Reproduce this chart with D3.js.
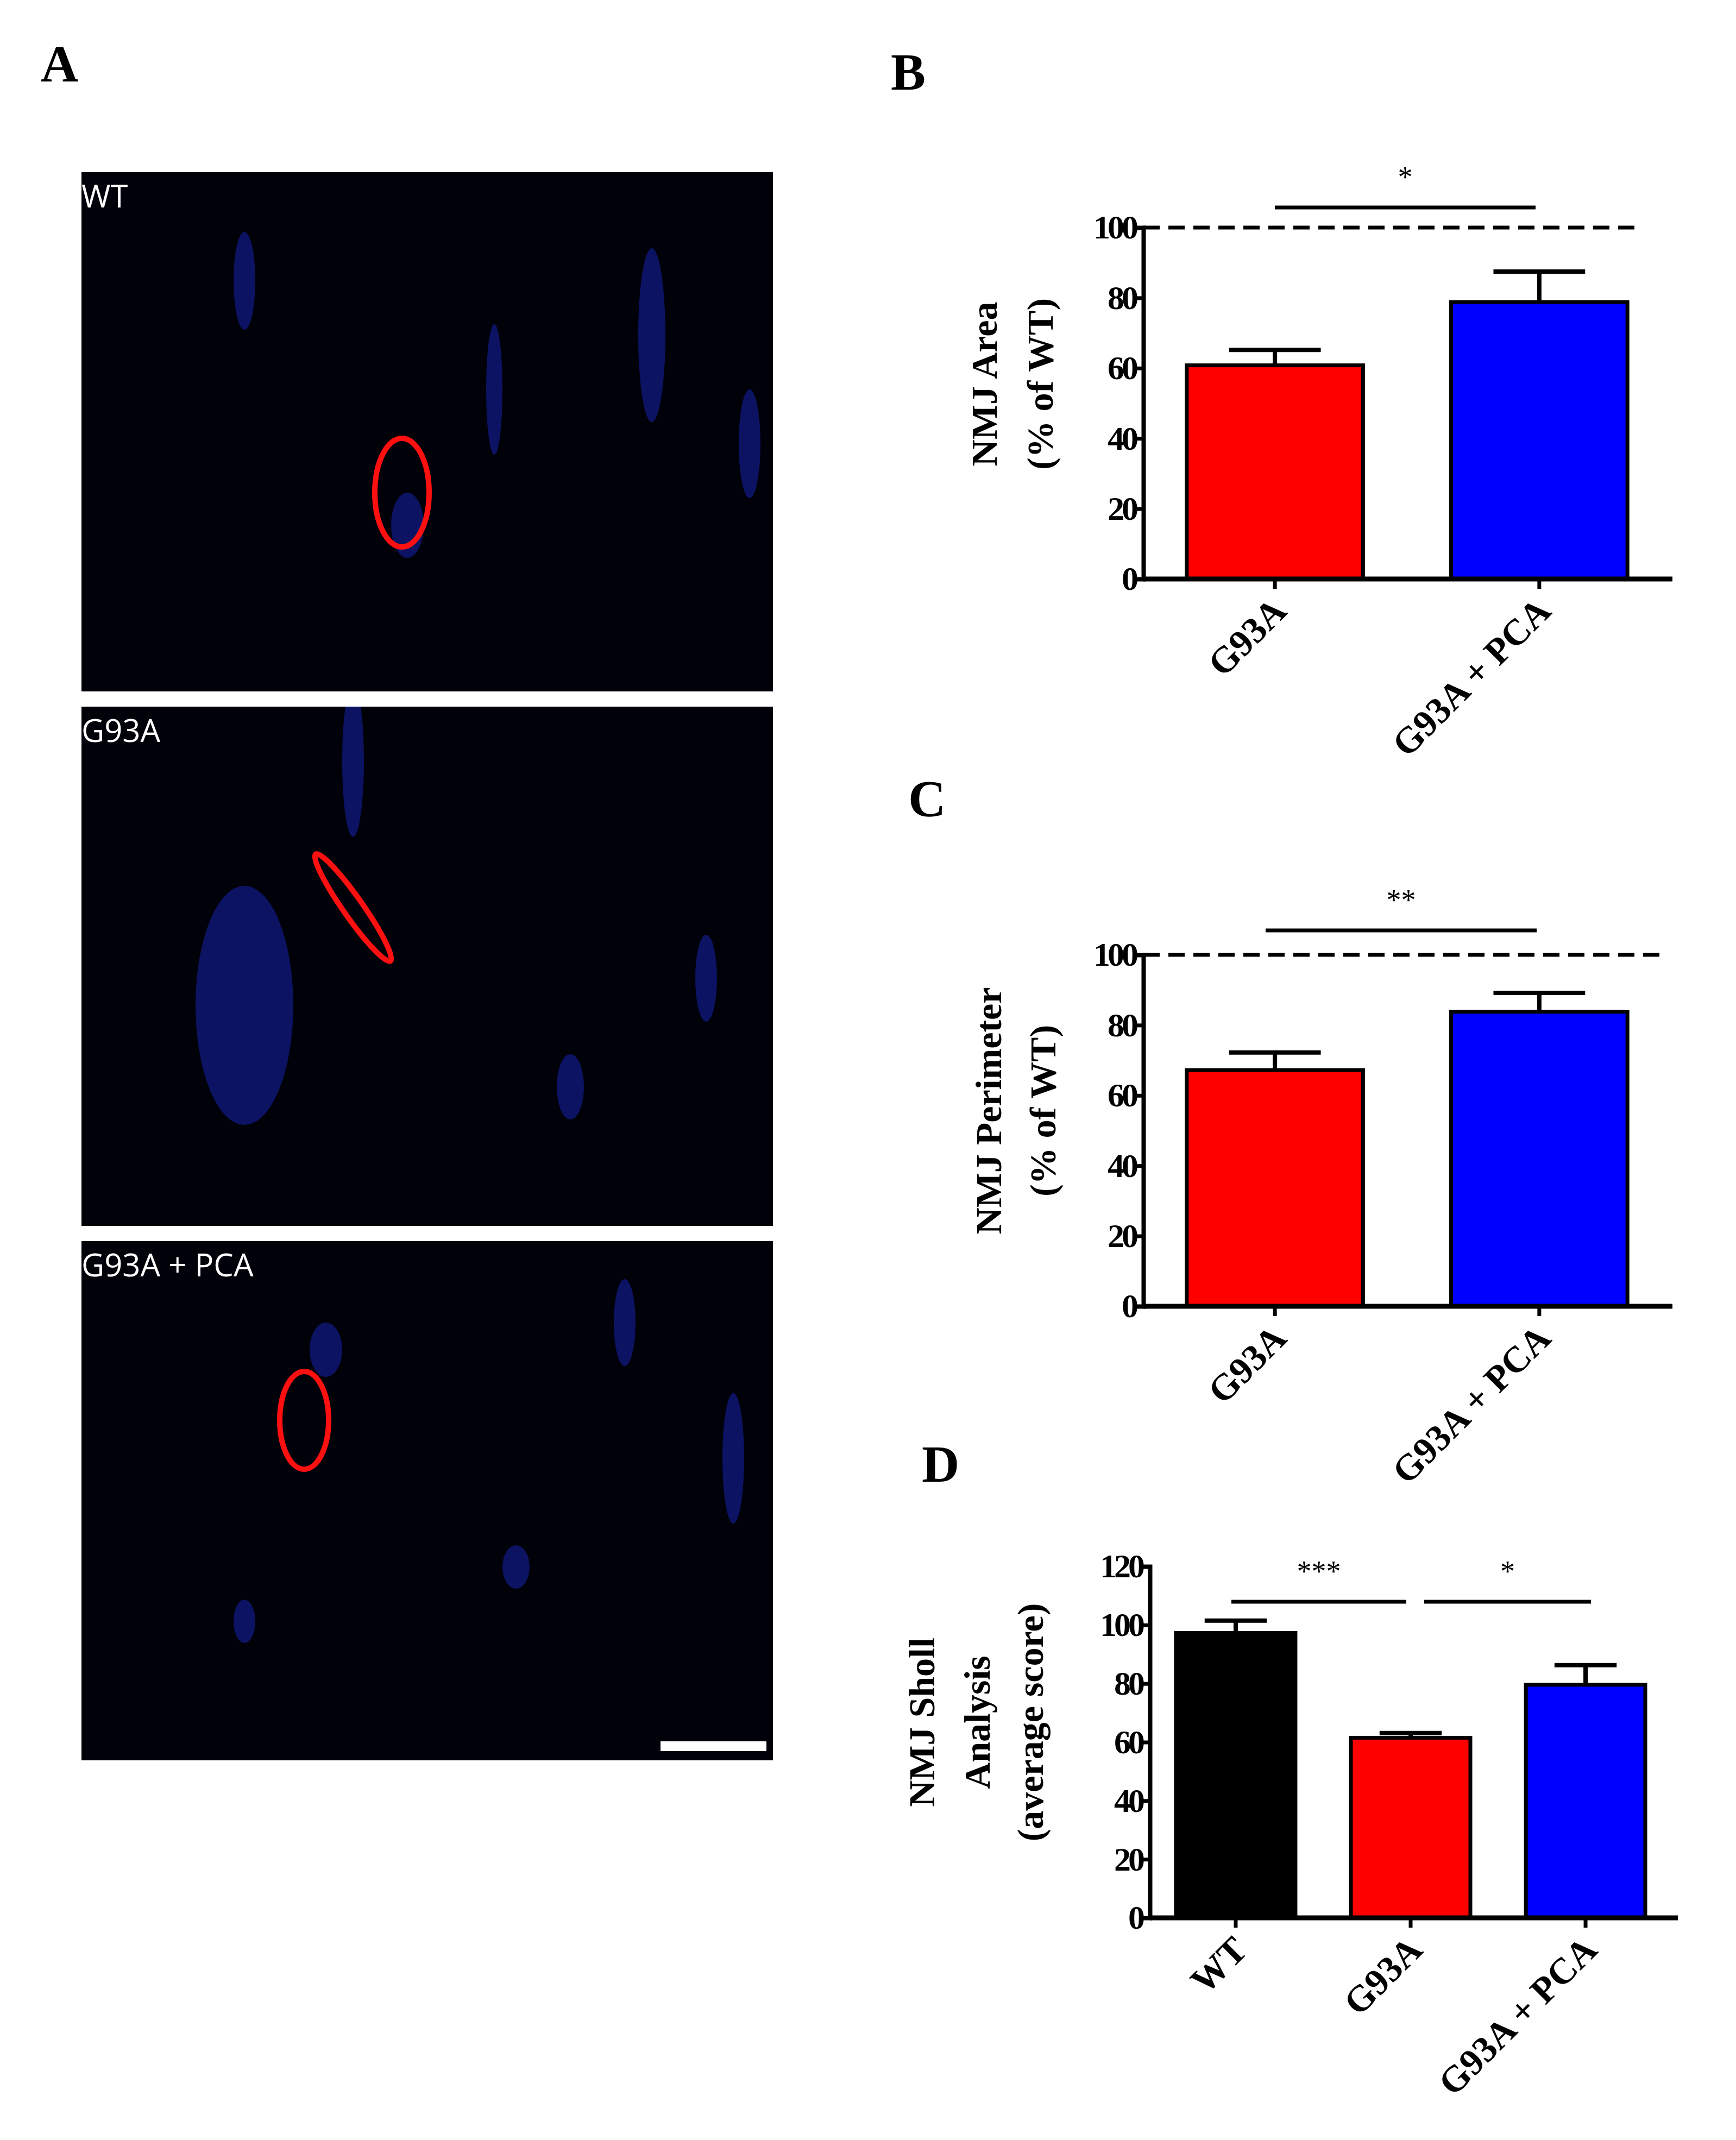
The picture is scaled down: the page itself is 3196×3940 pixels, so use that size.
<!DOCTYPE html><html><head><meta charset="utf-8">
<script src="https://cdn.jsdelivr.net/npm/d3@7"></script>
<style>body{margin:0;background:#fff}</style></head><body>
<script>
const catsB=["G93A","G93A + PCA"], areaMean=[60.8,78.8], areaErr=[4.4,8.7];
const catsC=["G93A","G93A + PCA"], perimMean=[67.2,83.8], perimErr=[5.0,5.4];
const catsD=["WT","G93A","G93A + PCA"], shollMean=[97.3,61.5,79.6], shollErr=[4.2,1.6,6.7];
const ticks100=[0,20,40,60,80,100], ticks120=[0,20,40,60,80,100,120];
const colorsMap={"WT":"#000","G93A":"#ff0000","G93A + PCA":"#0000ff"};
const W=3196,H=3940,F="'Liberation Serif',serif";
const svg=d3.select("body").append("svg").attr("width",W).attr("height",H);
svg.append("rect").attr("width",W).attr("height",H).attr("fill","#fff");
function letter(t,x,y){svg.append("text").text(t).attr("x",x).attr("y",y).attr("font-family",F).attr("font-weight","bold").attr("font-size",96);}
letter("A",75,150);letter("B",1640,165);letter("C",1672,1503);letter("D",1697,2728);
const defs=svg.append("defs");
const imgs=[["WT",317],["G93A",1301],["G93A + PCA",2285]];
imgs.forEach(([lab,y],i)=>{
 defs.append("clipPath").attr("id","c"+i).append("rect").attr("x",150).attr("y",y).attr("width",1273).attr("height",956);
 const g=svg.append("g").attr("clip-path",`url(#c${i})`);
 g.append("rect").attr("x",150).attr("y",y).attr("width",1273).attr("height",956).attr("fill","#01010a");
 const blobs=[[[300,200,20,90],[760,400,15,120],[1050,300,25,160],[1230,500,20,100],[600,650,30,60]],
  [[300,550,90,220],[500,100,20,140],[900,700,25,60],[1150,500,20,80]],
  [[450,200,30,50],[1000,150,20,80],[800,600,25,40],[1200,400,20,120],[300,700,20,40]]][i];
 blobs.forEach(b=>g.append("ellipse").attr("cx",150+b[0]).attr("cy",y+b[1]).attr("rx",b[2]).attr("ry",b[3]).attr("fill","#1a2ad0").attr("opacity",0.45));
 const red=[[[740,590,50,100]],[[650,370,18,120]],[[560,330,45,90]]][i];
 red.forEach(b=>g.append("ellipse").attr("cx",b[0]).attr("cy",y+b[1]).attr("rx",b[2]).attr("ry",b[3]).attr("fill","none").attr("stroke","#ff1010").attr("stroke-width",10).attr("transform",i==1?`rotate(-35 ${b[0]} ${y+b[1]})`:null));
 g.append("text").text(lab).attr("x",150).attr("y",y+65).attr("fill","#fff").attr("font-family","'Open Sans',sans-serif").attr("font-size",58);
});
svg.append("rect").attr("x",1216).attr("y",3206).attr("width",195).attr("height",18).attr("fill","#fff");

function panel(o){
 const y=d3.scaleLinear().domain([0,o.max]).range([o.y0,o.yTop]);
 const x=d3.scaleBand().domain(o.cats).range([o.x0,o.x1]).paddingInner(o.pin).paddingOuter(o.pout);
 const g=svg.append("g");
 o.cats.forEach((c,i)=>{
  const cx=x(c)+x.bandwidth()/2, t=y(o.mean[i]+o.err[i]), cw=x.bandwidth()*0.26;
  g.append("line").attr("x1",cx).attr("x2",cx).attr("y1",y(o.mean[i])).attr("y2",t).attr("stroke","#000").attr("stroke-width",8);
  g.append("line").attr("x1",cx-cw).attr("x2",cx+cw).attr("y1",t).attr("y2",t).attr("stroke","#000").attr("stroke-width",8);
  g.append("rect").attr("x",x(c)).attr("width",x.bandwidth()).attr("y",y(o.mean[i])).attr("height",o.y0-y(o.mean[i])).attr("fill",colorsMap[c]).attr("stroke","#000").attr("stroke-width",7);
 });
 const ya=g.append("g").attr("transform",`translate(${o.x0},0)`).call(d3.axisLeft(y).tickValues(o.ticks).tickSize(14).tickPadding(0));
 ya.select(".domain").attr("stroke-width",8);ya.selectAll(".tick line").attr("stroke-width",7);
 ya.selectAll("text").attr("font-family",F).attr("font-weight","bold").attr("font-size",62).attr("fill","#000").attr("letter-spacing",-5);
 const xa=g.append("g").attr("transform",`translate(0,${o.y0})`).call(d3.axisBottom(x).tickSize(18).tickSizeOuter(0));
 xa.select(".domain").attr("d",`M${o.x0},0H${o.xEnd}`).attr("stroke-width",9);
 xa.selectAll(".tick line").attr("stroke-width",7);
 xa.selectAll("text").attr("font-family",F).attr("font-weight","bold").attr("font-size",68).attr("fill","#000")
   .attr("text-anchor","end").attr("dy",0).attr("transform","translate(10,48) rotate(-45)");
 if(o.dash){g.append("line").attr("x1",o.x0).attr("x2",o.dash).attr("y1",y(100)).attr("y2",y(100)).attr("stroke","#000").attr("stroke-width",7).attr("stroke-dasharray","30,16");}
 o.sig.forEach(s=>{
  g.append("line").attr("x1",s.a).attr("x2",s.b).attr("y1",s.y).attr("y2",s.y).attr("stroke","#000").attr("stroke-width",7);
  g.append("text").text(s.t).attr("x",(s.a+s.b)/2).attr("y",s.y-38).attr("text-anchor","middle").attr("font-family",F).attr("font-size",54);
 });
 o.title.forEach((t,i)=>g.append("text").text(t).attr("transform",`translate(${o.tx[i]},${o.ty}) rotate(-90)`).attr("text-anchor","middle").attr("font-family",F).attr("font-weight","bold").attr("font-size",68));
}
panel({cats:catsB,mean:areaMean,err:areaErr,max:100,ticks:ticks100,y0:1066,yTop:419,x0:2105,x1:3076,xEnd:3079,pin:0.333,pout:0.164,dash:3021,
 sig:[{a:2347,b:2827,y:382,t:"*"}],title:["NMJ Area","(% of WT)"],tx:[1835,1938],ty:707});
panel({cats:catsC,mean:perimMean,err:perimErr,max:100,ticks:ticks100,y0:2405,yTop:1758,x0:2105,x1:3076,xEnd:3079,pin:0.333,pout:0.164,dash:3059,
 sig:[{a:2330,b:2829,y:1713,t:"**"}],title:["NMJ Perimeter","(% of WT)"],tx:[1843,1943],ty:2045});
panel({cats:catsD,mean:shollMean,err:shollErr,max:120,ticks:ticks120,y0:3531,yTop:2884,x0:2117,x1:3077,xEnd:3089,pin:0.317,pout:0.149,dash:0,
 sig:[{a:2267,b:2589,y:2949,t:"***"},{a:2622,b:2929,y:2949,t:"*"}],title:["NMJ Sholl","Analysis","(average score)"],tx:[1720,1822,1920],ty:3171});
</script></body></html>
